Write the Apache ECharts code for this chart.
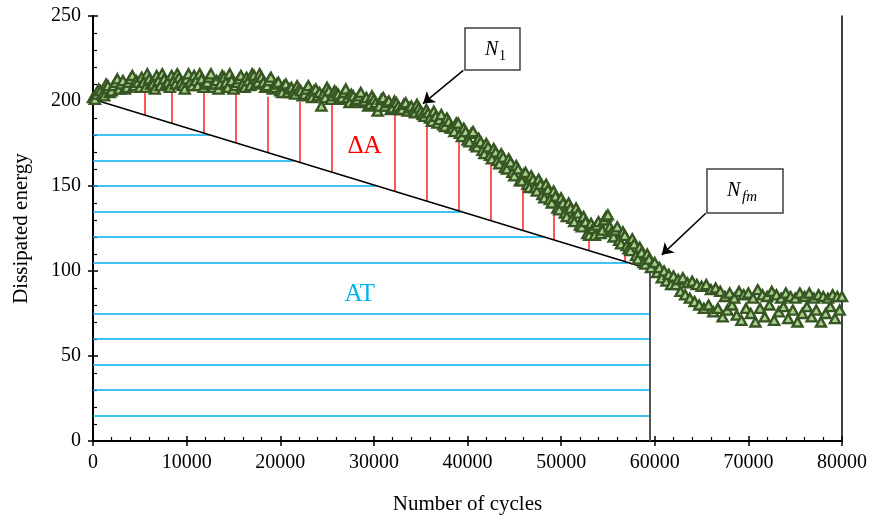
<!DOCTYPE html>
<html>
<head>
<meta charset="utf-8">
<script src="https://cdn.jsdelivr.net/npm/echarts@6/dist/echarts.min.js"></script>
<style>
  html, body { margin: 0; padding: 0; background: #fff; }
  #chart { width: 874px; height: 523px; }
</style>
</head>
<body>
<div id="chart"></div>
<script>
// Dissipated energy per cycle: [cycle, energy]
const energyPoints = [
  [0,202],[200,201],[400,204],[600,207],[800,206],[1000,204],[1200,203],[1400,210],[1600,209],[1800,205],
  [2000,206],[2200,209],[2400,211],[2600,213],[2800,207],[3000,210],[3200,212],[3400,207],[3600,208],[3800,211],
  [4000,213],[4200,215],[4400,209],[4600,212],[4800,211],[5000,208],[5200,214],[5400,211],[5600,208],[5800,216],
  [6000,213],[6200,210],[6400,210],[6600,207],[6800,215],[7000,212],[7200,209],[7400,216],[7600,213],[7800,210],
  [8000,211],[8200,208],[8400,215],[8600,212],[8800,210],[9000,216],[9200,214],[9400,211],[9600,209],[9800,207],
  [10000,213],[10200,216],[10400,211],[10600,209],[10800,215],[11000,212],[11200,209],[11400,216],[11600,213],[11800,208],
  [12000,210],[12200,211],[12400,214],[12600,216],[12800,208],[13000,210],[13200,212],[13400,207],[13600,210],[13800,215],
  [14000,214],[14200,211],[14400,208],[14600,216],[14800,212],[15000,207],[15200,209],[15400,211],[15600,213],[15800,215],
  [16000,210],[16200,208],[16400,214],[16600,212],[16800,209],[17000,216],[17200,215],[17400,210],[17600,211],[17800,216],
  [18000,214],[18200,211],[18400,208],[18600,209],[18800,212],[19000,214],[19200,207],[19400,208],[19600,210],[19800,211],
  [20000,206],[20200,205],[20400,209],[20600,210],[20800,205],[21000,207],[21200,208],[21400,205],[21600,204],[21800,209],
  [22000,207],[22200,206],[22400,203],[22600,204],[22800,207],[23000,209],[23200,204],[23400,202],[23600,206],[23800,207],
  [24000,203],[24200,205],[24400,197],[24600,204],[24800,202],[25000,208],[25200,206],[25400,201],[25600,203],[25800,206],
  [26000,205],[26200,204],[26400,201],[26600,202],[26800,205],[27000,207],[27200,202],[27400,199],[27600,204],[27800,203],
  [28000,200],[28200,201],[28400,203],[28600,205],[28800,199],[29000,200],[29200,202],[29400,197],[29600,198],[29800,203],
  [30000,201],[30200,199],[30400,194],[30600,197],[30800,201],[31000,202],[31200,197],[31400,199],[31600,200],[31800,195],
  [32000,196],[32200,200],[32400,199],[32600,197],[32800,195],[33000,195],[33200,198],[33400,199],[33600,194],[33800,196],
  [34000,197],[34200,194],[34400,193],[34600,198],[34800,196],[35000,194],[35200,192],[35400,191],[35600,195],[35800,193],
  [36000,190],[36200,188],[36400,194],[36600,191],[36800,187],[37000,189],[37200,192],[37400,186],[37600,185],[37800,190],
  [38000,188],[38200,184],[38400,184],[38600,182],[38800,187],[39000,187],[39200,181],[39400,179],[39600,184],[39800,182],
  [40000,177],[40200,176],[40400,181],[40600,182],[40800,174],[41000,173],[41200,178],[41400,176],[41600,171],[41800,169],
  [42000,175],[42200,173],[42400,168],[42600,166],[42800,172],[43000,170],[43200,165],[43400,163],[43600,169],[43800,167],
  [44000,161],[44200,160],[44400,166],[44600,164],[44800,158],[45000,156],[45200,162],[45400,160],[45600,153],[45800,153],
  [46000,157],[46200,158],[46400,151],[46600,149],[46800,156],[47000,154],[47200,149],[47400,147],[47600,154],[47800,151],
  [48000,145],[48200,143],[48400,151],[48600,148],[48800,142],[49000,140],[49200,147],[49400,144],[49600,137],[49800,136],
  [50000,143],[50200,140],[50400,134],[50600,132],[50800,140],[51000,137],[51200,131],[51400,129],[51600,137],[51800,134],
  [52000,127],[52200,126],[52400,132],[52600,129],[52800,122],[53000,121],[53200,128],[53400,125],[53600,121],[53800,127],
  [54000,129],[54200,122],[54400,124],[54600,130],[54800,132],[55000,133],[55200,126],[55400,123],[55600,120],[55800,124],
  [56000,126],[56200,118],[56400,116],[56600,123],[56800,121],[57000,115],[57200,113],[57400,112],[57600,119],[57800,116],
  [58000,109],[58200,107],[58400,114],[58600,111],[58800,105],[59000,104],[59200,110],[59400,107],[59600,102],
  [60000,105],[60250,99],[60500,102],[60750,96],[61000,100],[61250,94],[61500,98],[61750,92],[62000,97],[62250,92],
  [62500,95],[62750,88],[63000,96],[63250,86],[63500,93],[63750,84],[64000,94],[64250,82],[64500,92],[64750,80],
  [65000,91],[65250,78],[65500,92],[65750,80],[66000,89],[66250,76],[66500,90],[66750,78],[67000,88],[67250,73],
  [67500,85],[67750,77],[68000,87],[68250,80],[68500,84],[68750,74],[69000,88],[69250,71],[69500,86],[69750,78],
  [70000,87],[70250,75],[70500,84],[70750,70],[71000,89],[71250,78],[71500,86],[71750,73],[72000,85],[72250,80],
  [72500,88],[72750,71],[73000,86],[73250,76],[73500,84],[73750,79],[74000,87],[74250,72],[74500,85],[74750,77],
  [75000,84],[75250,70],[75500,87],[75750,75],[76000,85],[76250,79],[76500,87],[76750,73],[77000,84],[77250,77],
  [77500,86],[77750,70],[78000,85],[78250,75],[78500,84],[78750,79],[79000,86],[79250,72],[79500,85],[79750,77],
  [80000,85]
];

// Reference line from the first cycle to the failure point N_fm
const baseStart = [0, 201];
const baseEnd = [59500, 101];

// Hatching of the area under the reference line (AT)
const atLevels = [15, 30, 45, 60, 75, 105, 120, 135, 150, 165, 180];

// Hatching of the area between the curve and the reference line (ΔA)
const deltaCycles = [5550, 8440, 11860, 15270, 18690, 22110, 25530, 32260, 35670, 39090, 42510, 45930, 49240, 52980, 56820];
const deltaTop = [206, 207, 205.5, 204.5, 202.5, 199.5, 199.5, 192.5, 187.5, 178, 165, 148.5, 134, 118, 112.5];

// Axis tick settings
const xTicks = { min: 0, max: 80000, interval: 10000 };
const yTicks = { min: 0, max: 250, interval: 50 };

// Annotation anchors (data coordinates)
const n1Arrow = [[39550, 218], [35250, 198.5]];
const nfmArrow = [[65450, 134], [60750, 109.5]];
const deltaLabelAt = [29000, 173];
const atLabelAt = [28500, 86];

function baseAt(x) {
  const t = (x - baseStart[0]) / (baseEnd[0] - baseStart[0]);
  return baseStart[1] + t * (baseEnd[1] - baseStart[1]);
}
function cycleOnBase(y) {
  const t = (y - baseStart[1]) / (baseEnd[1] - baseStart[1]);
  return baseStart[0] + t * (baseEnd[0] - baseStart[0]);
}

const serif = 'Liberation Serif';
const blueLines = atLevels.map(y => ({
  coords: [[0, y], [y >= baseEnd[1] ? cycleOnBase(y) : baseEnd[0], y]]
}));
const redLines = deltaCycles.map((x, i) => ({
  coords: [[x, baseAt(x)], [x, deltaTop[i]]]
}));

const chart = echarts.init(document.getElementById('chart'), null, { renderer: 'canvas' });

const axisLabelStyle = { color: '#000', fontFamily: serif, fontSize: 20, formatter: v => String(v) };
const titleStyle = { color: '#000', fontFamily: serif, fontSize: 21 };

const option = {
  animation: false,
  backgroundColor: '#fff',
  grid: { left: 93, right: 32, top: 16, bottom: 82, containLabel: false },
  xAxis: [
    {
      type: 'value', min: xTicks.min, max: xTicks.max, interval: xTicks.interval,
      name: 'Number of cycles', nameLocation: 'middle', nameGap: 53,
      nameTextStyle: titleStyle,
      axisLine: { show: true, lineStyle: { color: '#000', width: 2 } },
      axisTick: { show: true, inside: false, length: 5, lineStyle: { color: '#000', width: 1.5 } },
      minorTick: { show: false },
      axisLabel: Object.assign({ margin: 12 }, axisLabelStyle),
      splitLine: { show: false }
    },
    {
      type: 'value', min: xTicks.min, max: xTicks.max, interval: xTicks.interval, position: 'bottom',
      axisLine: { show: false },
      axisTick: { show: true, inside: true, length: 5, lineStyle: { color: '#000', width: 1.5 } },
      minorTick: { show: true, splitNumber: 5, length: 4, lineStyle: { color: '#000', width: 1.2 } },
      axisLabel: { show: false },
      splitLine: { show: false }
    }
  ],
  yAxis: [
    {
      type: 'value', min: yTicks.min, max: yTicks.max, interval: yTicks.interval,
      name: 'Dissipated energy', nameLocation: 'middle', nameGap: 61, nameRotate: 90,
      nameTextStyle: titleStyle,
      axisLine: { show: true, lineStyle: { color: '#000', width: 2 } },
      axisTick: { show: true, inside: false, length: 5, lineStyle: { color: '#000', width: 1.5 } },
      minorTick: { show: false },
      axisLabel: Object.assign({ margin: 12 }, axisLabelStyle),
      splitLine: { show: false }
    },
    {
      type: 'value', min: yTicks.min, max: yTicks.max, interval: yTicks.interval, position: 'left',
      axisLine: { show: false },
      axisTick: { show: true, inside: true, length: 5, lineStyle: { color: '#000', width: 1.5 } },
      minorTick: { show: true, splitNumber: 5, length: 4, lineStyle: { color: '#000', width: 1.2 } },
      axisLabel: { show: false },
      splitLine: { show: false }
    },
    {
      type: 'value', min: yTicks.min, max: yTicks.max, position: 'right',
      axisLine: { show: true, lineStyle: { color: '#000', width: 1.5 } },
      axisTick: { show: false }, axisLabel: { show: false }, splitLine: { show: false }
    }
  ],
  series: [
    {
      name: 'AT', type: 'lines', coordinateSystem: 'cartesian2d', z: 2,
      lineStyle: { color: '#00b0f0', width: 1.5, opacity: 1 },
      data: blueLines
    },
    {
      name: 'ΔA', type: 'lines', coordinateSystem: 'cartesian2d', z: 2,
      lineStyle: { color: '#ff2020', width: 1.5, opacity: 1 },
      data: redLines
    },
    {
      name: 'Reference', type: 'lines', coordinateSystem: 'cartesian2d', z: 3,
      lineStyle: { color: '#000', width: 1.5, opacity: 1 },
      data: [{ coords: [baseStart, baseEnd] }]
    },
    {
      name: 'Failure', type: 'lines', coordinateSystem: 'cartesian2d', z: 3,
      lineStyle: { color: '#555', width: 2, opacity: 1 },
      data: [{ coords: [[baseEnd[0], 0], baseEnd] }]
    },
    {
      name: 'Dissipated energy', type: 'scatter', z: 5,
      symbol: 'triangle', symbolSize: [10, 9],
      itemStyle: { color: '#a9d18e', borderColor: '#375623', borderWidth: 2.4, opacity: 1 },
      data: energyPoints
    },
    {
      name: 'Arrows', type: 'lines', coordinateSystem: 'cartesian2d', z: 8,
      symbol: ['none', 'arrow'], symbolSize: 11,
      lineStyle: { color: '#000', width: 1.5, opacity: 1 },
      data: [{ coords: n1Arrow }, { coords: nfmArrow }]
    }
  ]
};
chart.setOption(option);

// Text annotations and labelled boxes
const dPix = chart.convertToPixel({ gridIndex: 0 }, deltaLabelAt);
const aPix = chart.convertToPixel({ gridIndex: 0 }, atLabelAt);
const mathFont = 'Liberation Serif';
chart.setOption({
  graphic: [
    { type: 'text', x: dPix[0], y: dPix[1], z: 20,
      style: { text: 'ΔA', fill: '#ff0000', font: '25px ' + serif, align: 'center', verticalAlign: 'middle' } },
    { type: 'text', x: aPix[0], y: aPix[1], z: 20,
      style: { text: 'AT', fill: '#00b0f0', font: '25px ' + serif, align: 'center', verticalAlign: 'middle' } },
    { type: 'group', x: 465, y: 28, z: 20, children: [
      { type: 'rect', shape: { x: 0, y: 0, width: 55, height: 42 },
        style: { fill: '#fff', stroke: '#404040', lineWidth: 1.5 } },
      { type: 'text', x: 20, y: 22,
        style: { text: 'N', fill: '#000', font: 'italic 20px ' + mathFont, align: 'left', verticalAlign: 'middle' } },
      { type: 'text', x: 34, y: 28,
        style: { text: '1', fill: '#000', font: '14px ' + mathFont, align: 'left', verticalAlign: 'middle' } }
    ]},
    { type: 'group', x: 707, y: 169, z: 20, children: [
      { type: 'rect', shape: { x: 0, y: 0, width: 76, height: 44 },
        style: { fill: '#fff', stroke: '#404040', lineWidth: 1.5 } },
      { type: 'text', x: 20, y: 22,
        style: { text: 'N', fill: '#000', font: 'italic 20px ' + mathFont, align: 'left', verticalAlign: 'middle' } },
      { type: 'text', x: 35, y: 28,
        style: { text: 'fm', fill: '#000', font: 'italic 15px ' + mathFont, align: 'left', verticalAlign: 'middle' } }
    ]}
  ]
});
</script>
</body>
</html>
